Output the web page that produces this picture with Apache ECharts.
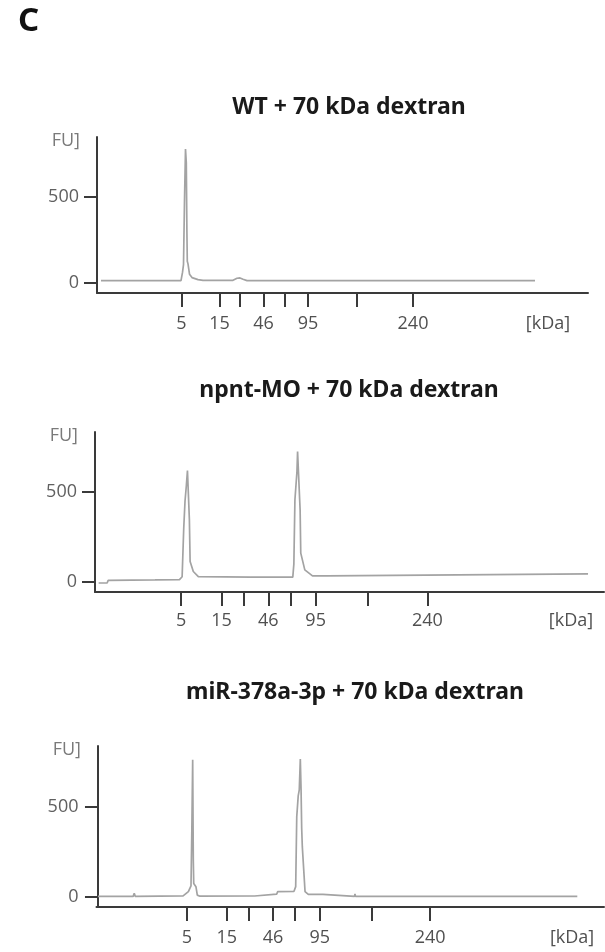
<!DOCTYPE html>
<html>
<head>
<meta charset="utf-8">
<script src="https://cdn.jsdelivr.net/npm/echarts@6/dist/echarts.min.js"></script>
<style>
  html, body { margin: 0; padding: 0; background: #fff; }
  #echarts { width: 605px; height: 952px; }
</style>
</head>
<body>
<div id="echarts"></div>
<script type="text/javascript">
// migration position of the ladder peaks (arbitrary run units) and their sizes
var ladderPos = [84.5, 122.5, 143, 166.5, 187.5, 211, 260, 316];
var ladderLabels = ['5', '15', '', '46', '', '95', '', '240'];
var unitPos = 451;
var unitLabel = '[kDa]';
var fuTicks = [0, 500];

var panelTitles = ['WT + 70 kDa dextran', 'npnt-MO + 70 kDa dextran', 'miR-378a-3p + 70 kDa dextran'];

// WT trace
var wtPos = [4, 84, 85.5, 86.5, 87.5, 88.5, 89.3, 89.9, 90.3, 91, 92.5, 95, 98, 101, 106, 116, 118, 120, 136, 140, 143, 146, 150, 438];
var wtFU  = [12, 12, 60, 105, 480, 780, 700, 300, 125, 110, 50, 30, 24, 18, 14, 14, 20, 14, 14, 26, 28, 20, 12, 12];

// npnt-MO trace
var npntPos = [7, 15, 16, 60, 83, 85.5, 87, 88.2, 89.5, 90.5, 91.5, 92.3, 93, 96, 100.7, 150, 189.5, 190.5, 191.5, 193.4, 194, 195.5, 196.4, 197, 200.8, 208, 222, 223, 467];
var npntFU  = [-5, -5, 10, 12, 14, 30, 300, 450, 540, 620, 620, 350, 115, 59, 31, 28, 28, 100, 457, 614, 726, 726, 400, 161, 68, 35, 35, 44, 46];

// miR-378a-3p trace
var mirPos = [0, 33.5, 34.5, 35.5, 81, 86, 88.5, 89.3, 90.1, 90.7, 91.1, 93.2, 94.5, 97, 149, 150, 170, 171, 186.5, 188.1, 189.1, 190.5, 191.5, 192.5, 193.2, 193.8, 194.4, 197, 200.1, 214, 215, 244, 244.5, 245, 456];
var mirFU  = [2, 2, 19, 2, 5, 28, 60, 370, 760, 200, 74, 56, 9, 3, 4, 15, 15, 28, 30, 56, 444, 560, 593, 765, 600, 380, 278, 28, 13, 13, 2, 2, 15, 2, 2];

function pairs(xs, ys) {
	var out = [];
	for (var i = 0; i < xs.length; i++) out.push([xs[i], ys[i]]);
	return out;
}

var labelMap = {};
ladderPos.forEach(function (p, i) { if (ladderLabels[i]) labelMap[p] = ladderLabels[i]; });
labelMap[unitPos] = unitLabel;
var labelVals = Object.keys(labelMap).map(Number);

// panel layout: grid box in px, x/y extents
var panels = [
	{ left: 97, top: 137, width: 491, height: 156, xMin: 0, xMax: 491, yMin: -60, yMax: 850, titleX: 344, titleY: 91, labelGap: 22 },
	{ left: 95, top: 432, width: 509, height: 160, xMin: 3.6, xMax: 482, yMin: -55, yMax: 835, titleX: 344, titleY: 374, labelGap: 20 },
	{ left: 96.5, top: 746, width: 507.5, height: 161, xMin: -1.4, xMax: 481.4, yMin: -57, yMax: 837, titleX: 350, titleY: 676, labelGap: 22 }
];
var traces = [pairs(wtPos, wtFU), pairs(npntPos, npntFU), pairs(mirPos, mirFU)];

var axisColor = '#3a3a3a';
var labelFont = 'Open Sans';

var thechart = echarts.init(document.getElementById('echarts'), null, { renderer: 'canvas' });
var theoption = {
	animation: false,
	backgroundColor: '#fff',
	title: [{
		text: 'C', left: 13, top: 0,
		textStyle: { fontFamily: 'Noto Sans', fontWeight: 'bold', fontSize: 33, color: '#111' }
	}],
	grid: [], xAxis: [], yAxis: [], series: []
};

panels.forEach(function (p, i) {
	theoption.title.push({
		text: panelTitles[i], left: p.titleX, top: p.titleY, textAlign: 'center',
		textStyle: { fontFamily: 'Noto Sans', fontWeight: 'bold', fontSize: 23, color: '#1a1a1a' }
	});
	theoption.grid.push({ left: p.left, top: p.top, width: p.width, height: p.height, containLabel: false });
	theoption.xAxis.push({
		type: 'value', gridIndex: i, min: p.xMin, max: p.xMax,
		splitLine: { show: false },
		axisLine: { onZero: false, lineStyle: { color: axisColor, width: 2 } },
		axisTick: { customValues: ladderPos, length: 14, lineStyle: { color: axisColor, width: 2 } },
		axisLabel: {
			customValues: labelVals, margin: p.labelGap, hideOverlap: false,
			fontFamily: labelFont, fontSize: 18, color: '#505050',
			formatter: function (v) { return labelMap[v] || ''; }
		}
	});
	theoption.yAxis.push({
		type: 'value', gridIndex: i, min: p.yMin, max: p.yMax,
		name: 'FU]', nameLocation: 'end', nameGap: -4,
		nameTextStyle: { fontFamily: labelFont, fontSize: 18, color: '#7a7a7a', align: 'right', verticalAlign: 'middle', padding: [0, 17, 0, 0] },
		splitLine: { show: false },
		axisLine: { lineStyle: { color: axisColor, width: 2 } },
		axisTick: { customValues: fuTicks, length: 13, lineStyle: { color: axisColor, width: 2 } },
		axisLabel: { customValues: fuTicks, margin: 18, fontFamily: labelFont, fontSize: 18, color: '#606060' }
	});
	theoption.series.push({
		type: 'line', xAxisIndex: i, yAxisIndex: i, data: traces[i],
		showSymbol: false, lineStyle: { color: '#a3a3a3', width: 1.7 }
	});
});

thechart.setOption(theoption, true);
</script>
</body>
</html>
